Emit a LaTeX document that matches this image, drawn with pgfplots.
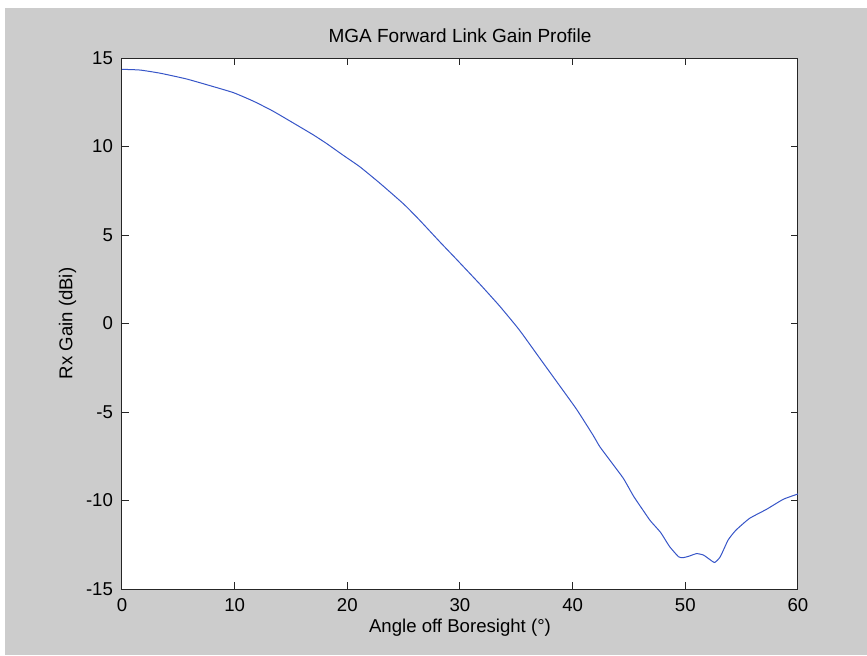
\documentclass[border=0pt]{standalone}
\usepackage{pgfplots}
\pgfplotsset{compat=1.18}
\usepackage{fontspec}
\setmainfont{Liberation Sans}
\definecolor{figgray}{RGB}{204,204,204}
\definecolor{mlblue}{RGB}{55,85,200}
\begin{document}
\begin{tikzpicture}[x=1pt,y=1pt]
\fill[white] (-61,-33) rectangle (372.5,294.5);
\fill[figgray] (-58.5,-33) rectangle (372.5,290.5);
\begin{axis}[
  at={(0,0)}, anchor=south west,
  scale only axis, width=338pt, height=265.5pt,
  xmin=0, xmax=60, ymin=-15, ymax=15,
  xtick={0,10,...,60}, ytick={-15,-10,...,15},
  tick align=inside, major tick length=3.5pt,
  axis background/.style={fill=white},
  axis line style={black!85, line width=0.5pt},
  tick style={black!85, line width=0.5pt},
  /pgf/number format/assume math mode=true,
  ticklabel style={font=\fontsize{9.3}{11}\selectfont},
  xticklabel style={yshift=-1pt},
  yticklabel style={xshift=-1pt},
  title={MGA Forward Link Gain Profile},
  title style={font=\fontsize{9.5}{11}\selectfont, yshift=-2pt},
  xlabel={Angle off Boresight (°)},
  ylabel={Rx Gain (dBi)},
  label style={font=\fontsize{9.3}{11}\selectfont},
  xlabel style={yshift=3pt},
  ylabel style={yshift=-2pt},
]
\addplot[mlblue, line width=0.5pt, smooth, tension=0.3] coordinates {
(0,14.36) (1.6,14.32) (3.4,14.14) (5.7,13.82) (7.8,13.44) (9.9,13.04)
(11.7,12.55) (13.4,12.0) (15.2,11.33) (17.0,10.65) (18.2,10.15) (19.6,9.52)
(21.1,8.86) (22.9,7.92) (25.0,6.75) (26.4,5.85) (28.2,4.62) (29.7,3.62)
(31.8,2.2) (33.5,1.0) (35.0,-0.15) (35.6,-0.65) (37.1,-1.98) (38.6,-3.3)
(40.35,-4.85) (41.8,-6.3) (42.4,-6.95) (43.3,-7.72) (44.5,-8.75) (45.4,-9.75)
(46.3,-10.6) (46.9,-11.15) (47.8,-11.8) (48.6,-12.6) (49.4,-13.18) (49.8,-13.23)
(50.3,-13.15) (51.0,-13.0) (51.6,-13.08) (52.1,-13.3) (52.6,-13.5) (53.1,-13.18)
(53.8,-12.23) (54.5,-11.67) (55.7,-11.01) (57.2,-10.5) (58.7,-9.93) (60.0,-9.63)
};
\end{axis}
\pgfresetboundingbox
\useasboundingbox (-61,-33) rectangle (372.5,294.5);
\end{tikzpicture}
\end{document}
